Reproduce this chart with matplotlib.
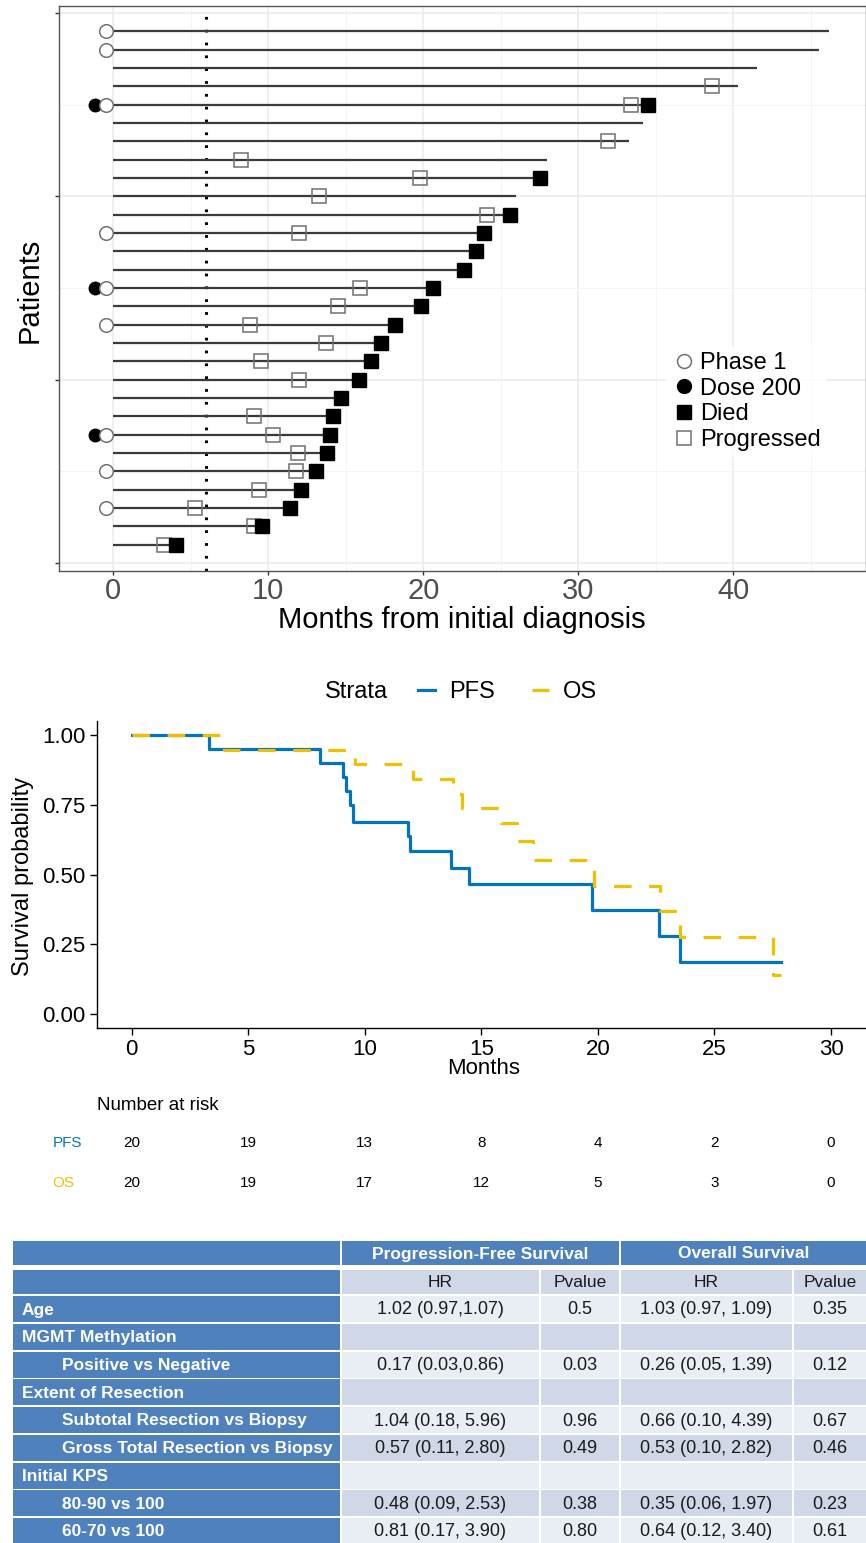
import matplotlib
matplotlib.use("Agg")
import matplotlib.pyplot as plt
from matplotlib.lines import Line2D
from matplotlib.patches import Rectangle
import numpy as np

plt.rcParams["font.family"] = ["Liberation Sans", "DejaVu Sans"]

W, H = 866, 1543

# ---------------- swimmer data (top row first) ----------------
end_time = [46.2, 45.5, 41.5, 40.3, 34.5, 34.2, 33.3, 28.0, 27.5, 26.0,
            25.6, 23.9, 23.4, 22.6, 20.6, 19.85, 18.2, 17.3, 16.6, 15.85,
            14.7, 14.2, 14.0, 13.8, 13.1, 12.1, 11.4, 9.6, 4.05]
died = [0, 0, 0, 0, 1, 0, 0, 0, 1, 0,
        1, 1, 1, 1, 1, 1, 1, 1, 1, 1,
        1, 1, 1, 1, 1, 1, 1, 1, 1]
progressed = [np.nan, np.nan, np.nan, 38.6, 33.4, np.nan, 31.9, 8.24, 19.8, 13.3,
              24.1, 12.0, np.nan, np.nan, 15.9, 14.5, 8.8, 13.7, 9.5, 12.0,
              np.nan, 9.1, 10.3, 11.9, 11.8, 9.4, 5.3, 9.1, 3.3]
phase1 = [1, 1, 0, 0, 1, 0, 0, 0, 0, 0,
          0, 1, 0, 0, 1, 0, 1, 0, 0, 0,
          0, 0, 1, 0, 1, 0, 1, 0, 0]
dose200 = [0, 0, 0, 0, 1, 0, 0, 0, 0, 0,
           0, 0, 0, 0, 1, 0, 0, 0, 0, 0,
           0, 0, 1, 0, 0, 0, 0, 0, 0]
landmark = 6

# ---------------- KM data ----------------
pfs_t = [0, 3.3, 8.1, 9.05, 9.2, 9.35, 9.5, 11.85, 11.95, 13.7, 14.45, 19.75, 22.6, 23.5, 27.85]
pfs_s = [1.0, 0.95, 0.90, 0.85, 0.80, 0.75, 0.69, 0.64, 0.583, 0.525, 0.467, 0.373, 0.28, 0.187, 0.187]
os_t = [0, 3.95, 9.6, 12.05, 13.8, 14.15, 15.85, 16.55, 17.2, 19.85, 22.65, 23.5, 27.5, 27.85]
os_s = [1.0, 0.947, 0.895, 0.842, 0.789, 0.737, 0.684, 0.62, 0.553, 0.461, 0.369, 0.276, 0.14, 0.14]
risk_times = [0, 5, 10, 15, 20, 25, 30]
risk_pfs = [20, 19, 13, 8, 4, 2, 0]
risk_os = [20, 19, 17, 12, 5, 3, 0]
BLUE, GOLD = "#0073C2", "#EFC000"

# ---------------- table data ----------------
row_labels = ["Age", "MGMT Methylation", "Positive vs Negative", "Extent of Resection",
              "Subtotal Resection vs Biopsy", "Gross Total Resection vs Biopsy",
              "Initial KPS", "80-90 vs 100", "60-70 vs 100"]
indent = [0, 0, 1, 0, 1, 1, 0, 1, 1]
pfs_hr = ["1.02 (0.97,1.07)", "", "0.17 (0.03,0.86)", "", "1.04 (0.18, 5.96)",
          "0.57 (0.11, 2.80)", "", "0.48 (0.09, 2.53)", "0.81 (0.17, 3.90)"]
pfs_p = ["0.5", "", "0.03", "", "0.96", "0.49", "", "0.38", "0.80"]
os_hr = ["1.03 (0.97, 1.09)", "", "0.26 (0.05, 1.39)", "", "0.66 (0.10, 4.39)",
         "0.53 (0.10, 2.82)", "", "0.35 (0.06, 1.97)", "0.64 (0.12, 3.40)"]
os_p = ["0.35", "", "0.12", "", "0.67", "0.46", "", "0.23", "0.61"]

fig = plt.figure(figsize=(W / 100, H / 100), dpi=100)

# ================= table (pixel-space overlay) =================
axt = fig.add_axes([0, 0, 1, 1])
axt.set_xlim(0, W)
axt.set_ylim(H, 0)
axt.axis("off")

DARK, MID, LIGHT = "#4F81BD", "#D0D8E8", "#E9EDF4"
col_edges = [12, 341, 540, 620, 793, 867]


def cell(x0, x1, y0, y1, color):
    axt.add_patch(Rectangle((x0 + 1, y0), x1 - x0 - 2, y1 - y0, facecolor=color,
                            edgecolor="none"))


# header row 1
cell(col_edges[0], col_edges[1], 1241, 1265, DARK)
cell(col_edges[1], col_edges[3], 1241, 1265, DARK)
cell(col_edges[3], col_edges[5], 1241, 1265, DARK)
axt.text((col_edges[1] + col_edges[3]) / 2, 1254, "Progression-Free Survival", color="white",
         fontsize=12.5, fontweight="bold", ha="center", va="center")
axt.text((col_edges[3] + col_edges[5]) / 2, 1254, "Overall Survival", color="white",
         fontsize=12.5, fontweight="bold", ha="center", va="center")
# header row 2
cell(col_edges[0], col_edges[1], 1270, 1294, DARK)
for j, lab in enumerate(["HR", "Pvalue", "HR", "Pvalue"]):
    cell(col_edges[j + 1], col_edges[j + 2], 1270, 1294, MID)
    axt.text((col_edges[j + 1] + col_edges[j + 2]) / 2, 1282.5, lab, color="#1a1a1a",
             fontsize=12.5, ha="center", va="center")
# body
for i, lab in enumerate(row_labels):
    y0 = 1296 + 27.75 * i
    y1 = y0 + 26
    yc = (y0 + y1) / 2 + 1
    fill = LIGHT if i % 2 == 0 else MID
    cell(col_edges[0], col_edges[1], y0, y1, DARK)
    axt.text(22 + 40 * indent[i], yc, lab, color="white", fontsize=12.5,
             fontweight="bold", ha="left", va="center")
    vals = [pfs_hr[i], pfs_p[i], os_hr[i], os_p[i]]
    for j, v in enumerate(vals):
        cell(col_edges[j + 1], col_edges[j + 2], y0, y1, fill)
        axt.text((col_edges[j + 1] + col_edges[j + 2]) / 2, yc, v, color="#1a1a1a",
                 fontsize=13, ha="center", va="center")

# ================= swimmer plot =================
ax = fig.add_axes([59 / W, 1 - 570.5 / H, (W - 59) / W, 565 / H])
n = len(end_time)
ypos = np.arange(n, 0, -1)
ax.hlines(ypos, 0, end_time, color="#3a3a3a", lw=1.6, zorder=2)
ax.axvline(landmark, color="black", lw=2.2, linestyle=(0, (0.9, 3.3)), zorder=1)
prog = np.array(progressed)
m = ~np.isnan(prog)
ax.plot(prog[m], ypos[m], "s", ms=10, mfc="none", mec="#707070", mew=1.1, zorder=3)
dmask = np.array(died) == 1
ax.plot(np.array(end_time)[dmask], ypos[dmask], "s", ms=10, color="black", zorder=4)
dz = np.array(dose200) == 1
ax.plot(np.full(dz.sum(), -1.2), ypos[dz], "o", ms=9, color="black", zorder=3)
pz = np.array(phase1) == 1
ax.plot(np.full(pz.sum(), -0.45), ypos[pz], "o", ms=9.8, mfc="white", mec="#707070",
        mew=1.1, zorder=4)

ax.set_xlim(-3.5, 48.56)
ax.set_ylim(-0.4, 30.4)
ax.set_xticks([0, 10, 20, 30, 40])
ax.set_xticks([5, 15, 25, 35, 45], minor=True)
ax.set_yticks([0, 10, 20, 30])
ax.set_yticks([5, 15, 25], minor=True)
ax.set_yticklabels([])
ax.tick_params(which="major", length=3, width=1, color="#333333", labelsize=21,
               labelcolor="#4D4D4D", pad=2)
ax.tick_params(which="minor", length=0)
ax.grid(which="major", color="#EBEBEB", lw=1.1)
ax.grid(which="minor", color="#F4F4F4", lw=0.7)
ax.set_axisbelow(True)
for s in ax.spines.values():
    s.set_color("#555555")
    s.set_linewidth(1)

handles = [
    Line2D([], [], ls="none", marker="o", ms=10, mfc="white", mec="#707070", mew=1.1),
    Line2D([], [], ls="none", marker="o", ms=10, color="black"),
    Line2D([], [], ls="none", marker="s", ms=10, color="black"),
    Line2D([], [], ls="none", marker="s", ms=10, mfc="white", mec="#707070", mew=1.1),
]
leg = ax.legend(handles, ["Phase 1", "Dose 200", "Died", "Progressed"], loc="center left",
                bbox_to_anchor=(0.752, 0.299), fontsize=17, handlelength=1.0,
                handletextpad=0.2, labelspacing=0.16, borderpad=0.25, borderaxespad=0,
                frameon=True, fancybox=False)
leg.get_frame().set_facecolor("white")
leg.get_frame().set_edgecolor("none")

fig.text(30 / W, 1 - 290 / H, "Patients", rotation=90, ha="center", va="center", fontsize=21)
fig.text(462 / W, 1 - 620 / H, "Months from initial diagnosis", ha="center", va="center",
         fontsize=21)

# ================= KM plot =================
ak = fig.add_axes([96.7 / W, 1 - 1028.3 / H, (W - 96.7) / W, (1028.3 - 721) / H])
ak.step(pfs_t, pfs_s, where="post", color=BLUE, lw=2.3, zorder=3)
ak.step(os_t, os_s, where="post", color=GOLD, lw=2.3, linestyle=(0, (5.5, 5.5)), zorder=4)
ak.set_xlim(-1.5, 31.5)
ak.set_ylim(-0.05, 1.05)
ak.set_xticks(risk_times)
ak.set_yticks([0, 0.25, 0.5, 0.75, 1.0])
ak.set_yticklabels(["0.00", "0.25", "0.50", "0.75", "1.00"])
ak.tick_params(length=5, width=1, color="black", labelsize=16, labelcolor="black", pad=3)
ak.spines["top"].set_visible(False)
ak.spines["right"].set_visible(False)
for s in ("left", "bottom"):
    ak.spines[s].set_linewidth(1)
fig.text(23 / W, 1 - 876 / H, "Survival probability", rotation=90, ha="center",
         va="center", fontsize=17)
fig.text(484 / W, 1 - 1068 / H, "Months", ha="center", va="center", fontsize=16)

fig.text(325 / W, 1 - 692 / H, "Strata", ha="left", va="center", fontsize=17)
kh = [Line2D([], [], color=BLUE, lw=2.3),
      Line2D([], [], color=GOLD, lw=2.3, linestyle=(0, (5.5, 5.5)))]
fig.legend(kh, ["PFS", "OS"], loc="center left", bbox_to_anchor=(418 / W, 1 - 692 / H),
           ncol=2, fontsize=17, handlelength=0.7, handletextpad=0.6, columnspacing=1.6,
           borderpad=0, borderaxespad=0, frameon=False)

# risk table
tr = ak.get_xaxis_transform()
ax_h = 1028.3 - 721
ak.text(97 / W, 1 - 1105 / H, "Number at risk", transform=fig.transFigure, fontsize=13.5,
        ha="left", va="center")
for t, a, b in zip(risk_times, risk_pfs, risk_os):
    ak.text(t, (1028.3 - 1143) / ax_h, str(a), transform=tr, ha="center", va="center",
            fontsize=11, clip_on=False)
    ak.text(t, (1028.3 - 1183) / ax_h, str(b), transform=tr, ha="center", va="center",
            fontsize=11, clip_on=False)
fig.text(68 / W, 1 - 1143 / H, "PFS", color=BLUE, ha="center", va="center", fontsize=11)
fig.text(63 / W, 1 - 1183 / H, "OS", color=GOLD, ha="center", va="center", fontsize=11)

fig.savefig("out.png", dpi=100)
